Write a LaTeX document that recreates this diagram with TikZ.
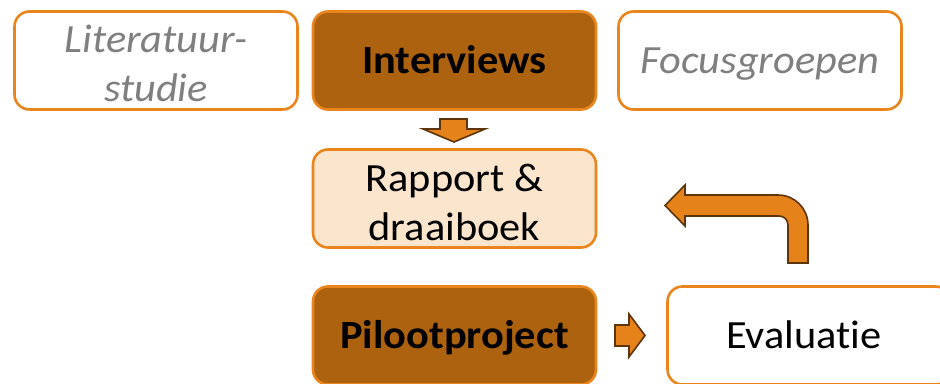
\documentclass[tikz,border=0pt]{standalone}
\usepackage{fontspec}
\setmainfont{Carlito}[Ligatures=NoCommon, FakeStretch=1.06]
\definecolor{oline}{HTML}{E9851C}
\definecolor{darkfill}{HTML}{AC620E}
\definecolor{lightfill}{HTML}{FBE5CD}
\definecolor{arrfill}{HTML}{E6821A}
\definecolor{arrline}{HTML}{5E3508}
\definecolor{greytext}{HTML}{7F7F7F}
\tikzset{
  box/.style={draw=oline, line width=2.6pt, rounded corners=15pt,
    minimum width=283pt, minimum height=98pt, inner sep=0pt,
    align=center, font=\fontsize{40}{49}\selectfont},
  txt/.style={inner sep=0pt, align=center, font=\fontsize{40}{49}\selectfont},
  oneline/.style={text height=34pt, text depth=8.2pt},
  whitebox/.style={box, fill=white},
  darkbox/.style={box, fill=darkfill},
  lightbox/.style={box, fill=lightfill},
  blockarrow/.style={draw=arrline, fill=arrfill, line width=1.6pt, line join=miter},
}
\begin{document}
\begin{tikzpicture}[x=1pt, y=-1pt]
\useasboundingbox (0,0) rectangle (940,383);
\clip (0,0) rectangle (940,383);
\fill[white] (0,0) rectangle (940,383);
\node[whitebox] (lit) at (156,60.5) {};
\node[txt, text=greytext] (litt) at ([yshift=-3pt]lit.center) {\textit{Literatuur-}\\\textit{studie}};
\node[darkbox, oneline, text=black] (int) at (454.5,60.5) {\textbf{Interviews}};
\node[whitebox, oneline, text=greytext] (foc) at (760,60.5) {\textit{Focusgroepen}};
\node[lightbox] (rap) at (454.5,198.5) {};
\node[txt, text=black] (rapt) at ([yshift=-4pt]rap.center) {Rapport \&\\draaiboek};
\node[darkbox, oneline, text=black] (pil) at (454.5,335.5) {\textbf{Pilootproject}};
\node[whitebox] (eva) at (809,335.5) {};
\node[txt, oneline, text=black] (evat) at ([xshift=-5pt]eva.center) {Evaluatie};
% down arrow
\draw[blockarrow] (440,119) -- (467,119) -- (467,129) -- (485,129) -- (454,142) -- (423,129) -- (440,129) -- cycle;
% right arrow
\draw[blockarrow] (615,325) -- (629,325) -- (629,314) -- (645,335.5) -- (629,357) -- (629,346) -- (615,346) -- cycle;
% bent arrow
\draw[blockarrow] (665,205.5) -- (685,185) -- (685,195) -- (778,195)
  .. controls (794.6,195) and (808,208.4) .. (808,225)
  -- (808,263) -- (788,263) -- (788,225)
  .. controls (788,220) and (784,216) .. (779,216)
  -- (685,216) -- (685,226) -- cycle;
\end{tikzpicture}
\end{document}
